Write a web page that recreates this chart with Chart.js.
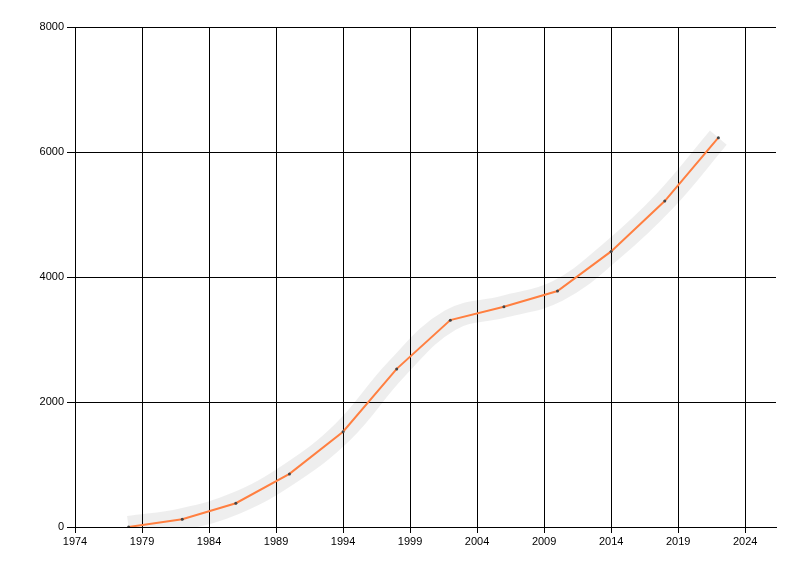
<!DOCTYPE html>
<html>
<head>
<meta charset="utf-8">
<script src="https://cdn.jsdelivr.net/npm/chart.js@4/dist/chart.umd.min.js"></script>
<style>
  html, body { margin: 0; padding: 0; background: #fff; }
  #wrap { width: 800px; height: 576px; }
</style>
</head>
<body>
<div id="wrap"><canvas id="chart" width="800" height="576"></canvas></div>
<script>
const years = [1978, 1982, 1986, 1990, 1994, 1998, 2002, 2006, 2010, 2014, 2018, 2022];
const values = [0, 125, 380, 850, 1525, 2530, 3310, 3525, 3775, 4410, 5215, 6230];
const xTicks = [1974, 1979, 1984, 1989, 1994, 1999, 2004, 2009, 2014, 2019, 2024];
const yTicks = [0, 2000, 4000, 6000, 8000];

const points = years.map((y, i) => ({ x: y, y: values[i] }));

Chart.defaults.font.family = "'Liberation Sans', Arial, sans-serif";
Chart.defaults.font.size = 11;
Chart.defaults.color = "#000";

new Chart(document.getElementById("chart").getContext("2d"), {
  type: "line",
  data: {
    datasets: [
      {
        // orange series line with small dark markers
        data: points,
        borderColor: "#ff7f40",
        borderWidth: 2,
        tension: 0,
        pointRadius: 1.5,
        pointBackgroundColor: "#444",
        pointBorderWidth: 0,
        order: 1,
      },
      {
        // soft gray band behind the line, clipped to the plot area
        data: points,
        borderColor: "rgba(0,0,0,0.065)",
        borderWidth: 22,
        borderCapStyle: "butt",
        tension: 0.4,
        pointRadius: 0,
        clip: 0,
        order: 2,
      },
    ],
  },
  options: {
    responsive: false,
    animation: false,
    layout: { padding: { top: 27, right: 24, left: 0, bottom: 0 } },
    plugins: { legend: { display: false }, tooltip: { enabled: false } },
    scales: {
      x: {
        type: "linear",
        min: 1974,
        max: 2026.3,
        afterBuildTicks: (s) => { s.ticks = xTicks.map((v) => ({ value: v })); },
        afterFit: (s) => { s.height = 49; },
        ticks: { padding: 2, maxRotation: 0, autoSkip: false, callback: (v) => String(v) },
        grid: { color: "#000", lineWidth: 1, tickLength: 6 },
        border: { color: "#000", width: 1 },
      },
      y: {
        min: 0,
        max: 8000,
        afterBuildTicks: (s) => { s.ticks = yTicks.map((v) => ({ value: v })); },
        afterFit: (s) => { s.width = 75; },
        ticks: { padding: 3, callback: (v) => String(v) },
        grid: { color: "#000", lineWidth: 1, tickLength: 8 },
        border: { color: "#000", width: 1 },
      },
    },
  },
});
</script>
</body>
</html>
